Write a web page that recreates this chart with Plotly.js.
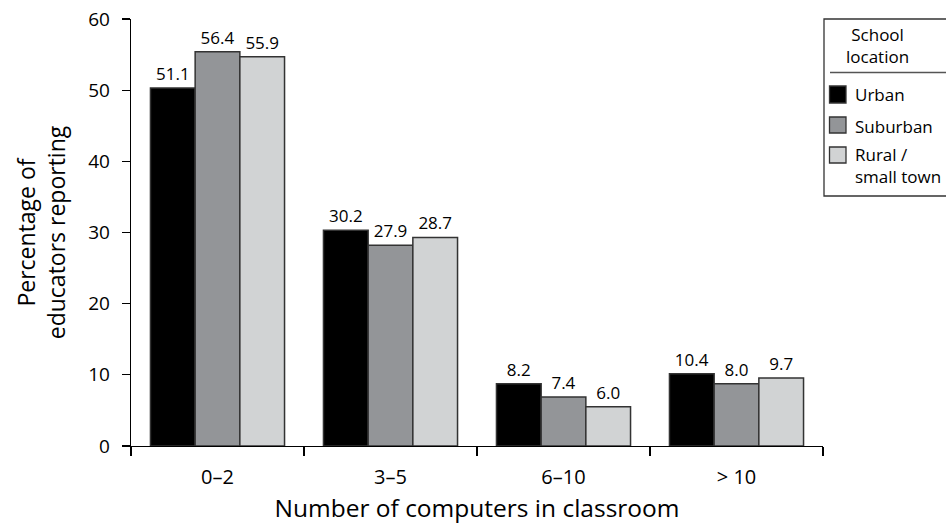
<!DOCTYPE html>
<html>
<head>
<meta charset="utf-8">
<script src="https://cdn.plot.ly/plotly-3.0.1.min.js"></script>
<style>html,body{margin:0;padding:0;background:#fff;}#chart{width:946px;height:524px;}</style>
</head>
<body>
<div id="chart"></div>
<script>
// Categories and series
const categories = ["0–2", "3–5", "6–10", "> 10"];
const seriesNames = ["Urban", "Suburban", "Rural /<br>small town"];
// Bar heights as drawn in the picture
const urbanBars = [50.3, 30.3, 8.75, 10.15];
const suburbanBars = [55.4, 28.2, 6.9, 8.75];
const ruralBars = [54.7, 29.3, 5.5, 9.55];
// Printed value labels
const urbanLabels = ["51.1", "30.2", "8.2", "10.4"];
const suburbanLabels = ["56.4", "27.9", "7.4", "8.0"];
const ruralLabels = ["55.9", "28.7", "6.0", "9.7"];
const yTicks = [0, 10, 20, 30, 40, 50, 60];

const colors = ["#000000", "#939598", "#d1d3d4"];
const FONT = "Open Sans, Noto Sans, sans-serif";

const W = 946, H = 524;
const L = 131, R = 823, T = 19, B = 446;
function px(x) { return (x - L) / (R - L); }
function py(y) { return (B - y) / (B - T); }

const barsets = [urbanBars, suburbanBars, ruralBars];
const labelsets = [urbanLabels, suburbanLabels, ruralLabels];
const traces = barsets.map((vals, i) => ({
  type: "bar",
  name: seriesNames[i],
  x: categories,
  y: vals,
  text: labelsets[i],
  texttemplate: "%{text}",
  textposition: "outside",
  textfont: {family: FONT, size: 17, color: "#000"},
  cliponaxis: false,
  marker: {color: colors[i], line: {color: "#333333", width: 1.5}},
  hoverinfo: "none"
}));

const shapes = [
  {type: "rect", xref: "paper", yref: "paper", x0: px(824), x1: px(990), y0: py(19), y1: py(196),
   line: {color: "#333", width: 1.3}, fillcolor: "rgba(0,0,0,0)"},
  {type: "line", xref: "paper", yref: "paper", x0: px(830), x1: px(990), y0: py(72.5), y1: py(72.5),
   line: {color: "#555", width: 1.3}}
];
const swatchY = [[86, 103], [117, 133], [147, 163]];
const textY = [95, 127, 162];
const annotations = [
  {xref: "paper", yref: "paper", x: px(877), y: py(46), text: "School<br>location", showarrow: false,
   xanchor: "center", yanchor: "middle", align: "center", font: {family: FONT, size: 17, color: "#000"}}
];
seriesNames.forEach((n, i) => {
  shapes.push({type: "rect", xref: "paper", yref: "paper", x0: px(829.5), x1: px(846), y0: py(swatchY[i][0]), y1: py(swatchY[i][1]),
    fillcolor: colors[i], line: {color: "#333", width: 1.3}});
  annotations.push({xref: "paper", yref: "paper", x: px(853), y: py(i === 2 ? 141 : textY[i]), text: n, showarrow: false,
    xanchor: "left", yanchor: i === 2 ? "top" : "middle", align: "left", font: {family: FONT, size: 17, color: "#000"}});
});

const layout = {
  width: W, height: H,
  margin: {l: L, r: W - R, t: T, b: H - B, autoexpand: false},
  paper_bgcolor: "#fff", plot_bgcolor: "#fff",
  showlegend: false,
  barmode: "group",
  bargap: 0.225,
  bargroupgap: 0,
  font: {family: FONT, size: 19, color: "#000"},
  xaxis: {
    type: "category", range: [-0.5, 3.5],
    showline: true, linecolor: "#000", linewidth: 1.3,
    ticks: "outside", tickson: "boundaries", ticklen: 9, tickcolor: "#000", tickwidth: 1.3,
    tickfont: {family: FONT, size: 20, color: "#000"},
    ticklabelstandoff: 13,
    title: {text: "Number of computers in classroom", font: {family: FONT, size: 24.5, color: "#000"}, standoff: 13},
    showgrid: false, zeroline: false, fixedrange: true
  },
  yaxis: {
    range: [0, 60], tickvals: yTicks,
    showline: true, linecolor: "#000", linewidth: 1.3,
    ticks: "outside", ticklen: 8, tickcolor: "#000", tickwidth: 1.3,
    tickfont: {family: FONT, size: 19, color: "#000"},
    ticklabelstandoff: 8,
    title: {text: "Percentage of<br>educators reporting", font: {family: FONT, size: 23, color: "#000"}, standoff: 16},
    showgrid: false, zeroline: false, fixedrange: true
  },
  shapes: shapes,
  annotations: annotations
};

Plotly.newPlot("chart", traces, layout, {displayModeBar: false, staticPlot: true});
</script>
</body>
</html>
